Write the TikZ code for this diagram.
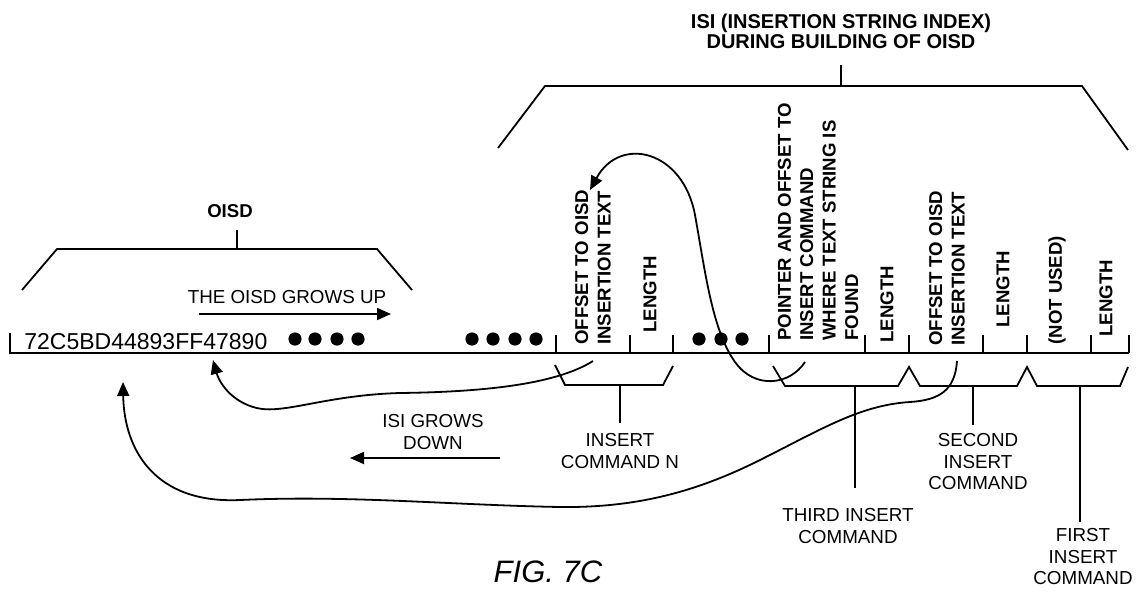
\documentclass[tikz,border=0pt]{standalone}
\usepackage{fontspec}
\setmainfont{Liberation Sans}
\usetikzlibrary{arrows.meta, positioning}
\tikzstyle{wire} = [line width=0.9pt]
\tikzstyle{arrow} = [line width=0.9pt, -{Triangle[length=7pt, width=6pt]}]
\tikzstyle{field} = [rotate=90, anchor=west, align=left, inner sep=0pt, font=\bfseries\fontsize{9.3}{11.2}\selectfont]
\tikzstyle{cmd} = [align=center, inner sep=0pt, font=\fontsize{9.4}{10.8}\selectfont]
\tikzstyle{heading} = [align=center, inner sep=0pt, font=\bfseries\fontsize{10}{10.2}\selectfont]

\begin{document}
\begin{tikzpicture}[x=0.5pt, y=-0.5pt]
        \useasboundingbox (0,0) rectangle (1137,596);

        \coordinate (isistub) at (841,65);
        \coordinate (isimid) at (841,86);
        \node[heading, above=8pt of isistub] (isi) {ISI (INSERTION STRING INDEX)\\DURING BUILDING OF OISD};
        \draw[wire] (isistub) -- (isimid);
        \draw[wire] (498,148) -- (545,86) -- (1082,86) -- (1128,150);

        \coordinate (oisdstub) at (237,230);
        \coordinate (oisdmid) at (237,249);
        \node[heading, font=\bfseries\fontsize{9.3}{11}\selectfont, above=6pt of oisdstub, xshift=-3.5pt] (oisd) {OISD};
        \draw[wire] (oisdstub) -- (oisdmid);
        \draw[wire] (22,290) -- (57,249) -- (377,249) -- (412,290);

        \node[cmd] (growup) at (287,297) {THE OISD GROWS UP};
        \coordinate (upstart) at (199,314);
        \coordinate (upend) at (391,314);
        \draw[arrow] (upstart) -- (upend);

        \node[anchor=west, inner sep=0pt, font=\fontsize{11.5}{13}\selectfont] (data) at (24,342) {72C5BD44893FF47890};
        \draw[wire] (10,333) -- (10,353) -- (1129,353);
        \foreach \x in {556,630,673,769,865,909,983,1027,1091,1129}
            \draw[wire] (\x,335) -- (\x,353);
        \foreach \x in {295,315,337,358,472,493,515,536,699,721,742}
            \fill (\x,339) circle (3.3pt);

        \node[field] (offN) at (593,345) {OFFSET TO OISD\\INSERTION TEXT};
        \node[field] (lenN) at (650,333) {LENGTH};
        \node[field] (ptr3) at (818,341) {POINTER AND OFFSET TO\\INSERT COMMAND\\WHERE TEXT STRING IS\\FOUND};
        \node[field] (len3) at (887,343) {LENGTH};
        \node[field] (off2) at (947,346) {OFFSET TO OISD\\INSERTION TEXT};
        \node[field] (len2) at (1003,328) {LENGTH};
        \node[field] (unused1) at (1057,345) {(NOT USED)};
        \node[field] (len1) at (1106,337) {LENGTH};

        \draw[wire] (555,365) -- (565,385) -- (663,385) -- (673,366);
        \draw[wire] (773,366) -- (785,386) -- (898,386) -- (909,367) -- (920,386) -- (1017,386) -- (1027,367) -- (1037,386) -- (1120,386) -- (1128,367);

        \coordinate (cmdNtop) at (620,385);
        \coordinate (cmdNend) at (620,423);
        \draw[wire] (cmdNtop) -- (cmdNend);
        \node[cmd, below=5pt of cmdNend] (cmdN) {INSERT\\COMMAND N};

        \coordinate (cmd3top) at (855,386);
        \coordinate (cmd3end) at (855,488);
        \draw[wire] (cmd3top) -- (cmd3end);
        \node[cmd, below=10pt of cmd3end, xshift=-3.5pt] (cmd3) {THIRD INSERT\\COMMAND};

        \coordinate (cmd2top) at (973,386);
        \coordinate (cmd2end) at (973,425);
        \draw[wire] (cmd2top) -- (cmd2end);
        \node[cmd, below=4pt of cmd2end, xshift=2.5pt] (cmd2) {SECOND\\INSERT\\COMMAND};

        \coordinate (cmd1top) at (1080,386);
        \coordinate (cmd1end) at (1080,522);
        \draw[wire] (cmd1top) -- (cmd1end);
        \node[cmd, below=3pt of cmd1end, xshift=1.5pt] (cmd1) {FIRST\\INSERT\\COMMAND};

        \node[cmd] (growdown) at (433,432) {ISI GROWS\\DOWN};
        \coordinate (downstart) at (500,458);
        \coordinate (downend) at (350,458);
        \draw[arrow] (downstart) -- (downend);

        \coordinate (offNsrc) at (593,361);
        \coordinate (dataend) at (213,360);
        \draw[arrow] (offNsrc) .. controls (555,385) and (480,392) .. (400,393) .. controls (330,395) and (290,412) .. (262,409) .. controls (235,405) and (220,385) .. (dataend);

        \coordinate (off2src) at (957,361);
        \coordinate (datastart) at (123,382);
        \draw[arrow] (off2src) .. controls (955,390) and (940,400) .. (910,402) .. controls (860,405) and (820,430) .. (760,460) .. controls (700,490) and (640,508) .. (560,507) .. controls (450,505) and (350,495) .. (240,500) .. controls (155,504) and (124,450) .. (datastart);

        \coordinate (ptrsrc) at (805,362);
        \coordinate (offNtop) at (590,190);
        \draw[arrow] (ptrsrc) .. controls (790,385) and (755,390) .. (735,362) .. controls (712,330) and (705,270) .. (695,215) .. controls (683,150) and (620,135) .. (offNtop);

        \node[inner sep=0pt, font=\itshape\fontsize{15.5}{18}\selectfont] (fig) at (548,572) {FIG. 7C};
    \end{tikzpicture}
\end{document}
